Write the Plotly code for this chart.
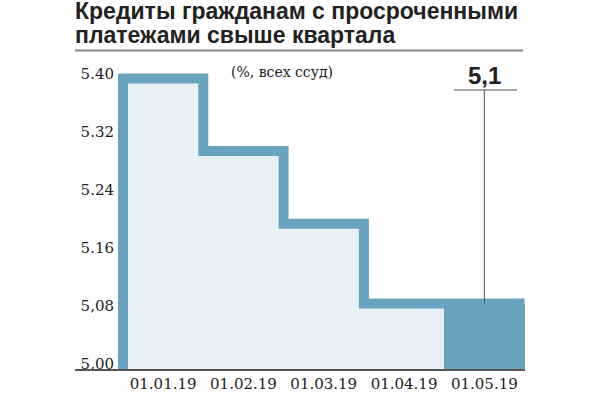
import plotly.graph_objects as go

# ---- data ----
dates = ["01.01.19", "01.02.19", "01.03.19", "01.04.19", "01.05.19"]
values = [5.40, 5.30, 5.20, 5.09, 5.09]
base_value = 5.00
y_tickvals = [5.00, 5.08, 5.16, 5.24, 5.32, 5.40]
y_ticktext = ["5,00", "5,08", "5.16", "5.24", "5.32", "5.40"]
title_lines = ["Кредиты гражданам с просроченными", "платежами свыше квартала"]
unit_note = "(%, всех ссуд)"
last_label = "5,1"

STROKE = "#68a3bf"
LIGHT = "#e9f1f7"
TXT = "#222222"

xs = list(range(len(dates)))
bar_colors = [LIGHT] * (len(values) - 1) + [STROKE]

fig = go.Figure()
fig.add_trace(go.Bar(
    x=xs, y=values, width=1.0,
    marker=dict(color=bar_colors, line=dict(width=0)),
    hoverinfo="skip", showlegend=False,
))

# step outline built from the values
step_x = [xs[0] - 0.5, xs[0] - 0.5] + [x + 0.5 for x in xs]
step_y = [base_value] + values + [values[-1]]
fig.add_trace(go.Scatter(
    x=step_x, y=step_y, mode="lines",
    line=dict(color=STROKE, width=10, shape="hv"),
    hoverinfo="skip", showlegend=False,
))

W, H = 600, 393
L, R, T, B = 115, 75, 60, 23
k = 726.0  # px per unit
y540 = 78.5
y_lo = 5.40 - (H - B - y540) / k
y_hi = 5.40 + (y540 - T) / k
px_per_x = 80.3
x_left_edge = 123
x_lo = -0.5 - (x_left_edge - L) / px_per_x
x_hi = 4.5 + (W - R - 524.5) / px_per_x


def py(px):
    return (H - B - px) / (H - B - T)


def ppx(px):
    return (px - L) / (W - L - R)


def px2y(px):
    return 5.40 - (px - y540) / k


def px2x(px):
    return -0.5 + (px - x_left_edge) / px_per_x


fig.update_layout(
    width=W, height=H,
    margin=dict(l=L, r=R, t=T, b=B, autoexpand=False),
    paper_bgcolor="white", plot_bgcolor="white",
    bargap=0,
    xaxis=dict(
        range=[x_lo, x_hi], tickvals=xs, ticktext=dates,
        showgrid=False, zeroline=False, showline=False, automargin=False,
        ticks="", ticklabelstandoff=3,
        tickfont=dict(family="DejaVu Serif", size=15, color=TXT),
        fixedrange=True,
    ),
    yaxis=dict(
        range=[y_lo, y_hi], tickvals=y_tickvals, ticktext=y_ticktext,
        showgrid=False, zeroline=False, showline=False, ticks="", automargin=False,
        ticklabelshift=-5, ticklabelstandoff=0,
        tickfont=dict(family="DejaVu Serif", size=15, color=TXT),
        fixedrange=True,
    ),
    font=dict(family="DejaVu Serif", color=TXT),
)

# bottom axis line (extends under the tick labels, as in the reference)
fig.add_shape(type="line", xref="paper", yref="paper", x0=ppx(75), x1=ppx(525),
              y0=0, y1=0, line=dict(color="#555555", width=2))

# title
for i, line in enumerate(title_lines):
    fig.add_annotation(
        text=line, xref="paper", yref="paper", x=ppx(74), y=py(11 + 24 * i),
        xanchor="left", yanchor="middle", showarrow=False, borderpad=0,
        font=dict(family="Liberation Sans", size=23, color=TXT, weight="bold"),
    )
fig.add_shape(type="line", xref="paper", yref="paper", x0=ppx(75), x1=ppx(523),
              y0=py(50.5), y1=py(50.5), line=dict(color="#888888", width=2))

fig.add_annotation(
    text=unit_note, xref="paper", yref="paper", x=ppx(282), y=py(72),
    xanchor="center", yanchor="middle", showarrow=False,
    font=dict(family="DejaVu Serif", size=14, color=TXT),
)

# last value callout
fig.add_annotation(
    text=last_label, xref="x", yref="paper", x=xs[-1], y=py(75.5),
    xanchor="center", yanchor="middle", showarrow=False,
    font=dict(family="Liberation Sans", size=24, color=TXT, weight="bold"),
)
fig.add_shape(type="line", xref="x", yref="y", x0=px2x(454), x1=px2x(517),
              y0=px2y(90), y1=px2y(90), line=dict(color="#555555", width=1.2))
fig.add_shape(type="line", xref="x", yref="y", x0=xs[-1], x1=xs[-1],
              y0=values[-1], y1=px2y(90), line=dict(color="#555555", width=1))

fig.write_html("out.html", config={"displayModeBar": False},
               post_script="document.body.style.margin='0';")
